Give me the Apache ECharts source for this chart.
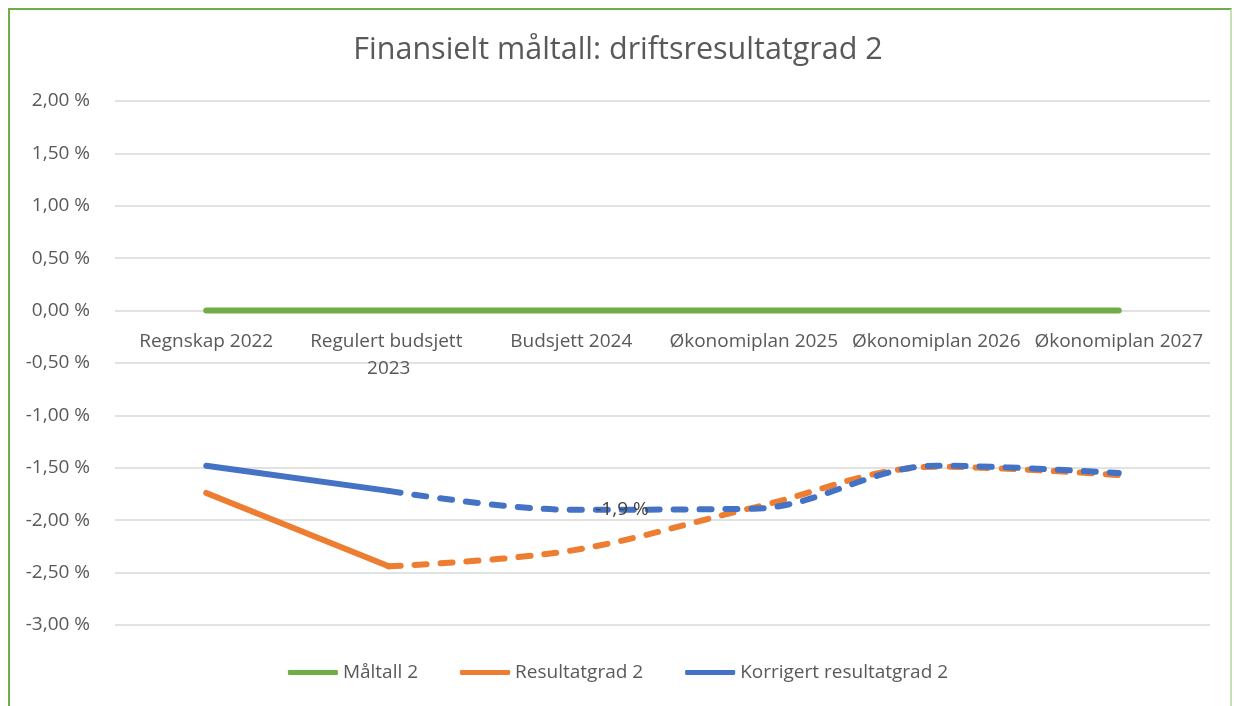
<!DOCTYPE html>
<html>
<head>
<meta charset="utf-8">
<script src="https://cdn.jsdelivr.net/npm/echarts@6/dist/echarts.min.js"></script>
<style>
html,body{margin:0;padding:0;background:#fff;}
#frame{position:absolute;left:8px;top:8px;width:1224px;height:710px;border:2px solid #70ad47;border-right-color:#c5e0b4;box-sizing:border-box;}
#c{position:absolute;left:0;top:0;width:1236px;height:706px;}
</style>
</head>
<body>
<div id="frame"></div>
<div id="c"></div>
<script>
const categories = ['Regnskap 2022', 'Regulert budsjett 2023', 'Budsjett 2024', 'Økonomiplan 2025', 'Økonomiplan 2026', 'Økonomiplan 2027'];
const maltall2 = [0, 0, 0, 0, 0, 0];
const resultatgrad2 = [-1.74, -2.44, -2.29, -1.88, -1.49, -1.57];
const korrigert2 = [-1.48, -1.72, -1.90, -1.89, -1.48, -1.55];
const labelIndex = 2; // data label shown on "Korrigert resultatgrad 2"
const seriesNames = ['Måltall 2', 'Resultatgrad 2', 'Korrigert resultatgrad 2'];
const titleText = 'Finansielt måltall: driftsresultatgrad 2';

const colors = ['#70ad47', '#ed7d31', '#4472c4'];
const font = 'Open Sans';
const dash = [12, 14];

function solidPart(arr){ return arr.map((v,i)=> i<=1 ? v : '-'); }
function dashedPart(arr, labelAt){
  return arr.map((v,i)=>{
    if (i < 1) return '-';
    if (i === labelAt) return {value: v, label: {show: true, position: 'right', distance: 24,
      formatter: p => p.value.toFixed(1).replace('.', ',') + ' %',
      color: '#404040', fontSize: 19, fontFamily: font}};
    return v;
  });
}
function lineSeries(name, data, color, type){
  return {name, type: 'line', data, smooth: 0.35, symbol: 'circle', symbolSize: 0, showSymbol: true,
    lineStyle: {color, width: 6, type, cap: 'round', join: 'round'}, itemStyle: {color},
    emphasis: {disabled: true}, z: 2};
}

const chart = echarts.init(document.getElementById('c'));
chart.setOption({
  animation: false,
  title: {text: titleText, left: 'center', top: 30,
    textStyle: {fontFamily: font, fontSize: 30.5, fontWeight: 'normal', color: '#595959'}},
  legend: {bottom: 19, left: 'center', itemWidth: 50, itemHeight: 5, itemGap: 42, icon: 'roundRect',
    data: seriesNames,
    textStyle: {fontFamily: font, fontSize: 19, color: '#595959'}},
  grid: {left: 115, right: 26, top: 101, bottom: 81},
  xAxis: {type: 'category', data: categories, boundaryGap: true, position: 'bottom',
    axisLine: {show: false, onZero: true}, axisTick: {show: false},
    axisLabel: {fontFamily: font, fontSize: 19, color: '#595959', margin: -297, width: 182, overflow: 'break', lineHeight: 27, interval: 0, hideOverlap: false}},
  yAxis: {type: 'value', min: -3, max: 2, interval: 0.5,
    axisLine: {show: false}, axisTick: {show: false},
    splitLine: {lineStyle: {color: '#d9d9d9', width: 1.5}},
    axisLabel: {fontFamily: font, fontSize: 19, color: '#595959', margin: 25,
      formatter: v => v.toFixed(2).replace('.', ',').replace('-0,00','0,00') + ' %'}},
  series: [
    lineSeries(seriesNames[0], maltall2, colors[0], 'solid'),
    lineSeries(seriesNames[1], solidPart(resultatgrad2), colors[1], 'solid'),
    lineSeries(seriesNames[1], dashedPart(resultatgrad2, -1), colors[1], dash),
    lineSeries(seriesNames[2], solidPart(korrigert2), colors[2], 'solid'),
    lineSeries(seriesNames[2], dashedPart(korrigert2, labelIndex), colors[2], dash)
  ]
});
</script>
</body>
</html>
